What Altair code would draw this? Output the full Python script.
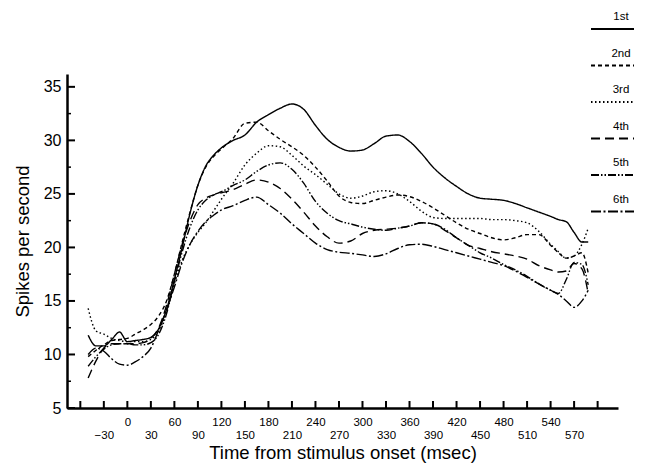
import altair as alt
import pandas as pd

names = ["1st", "2nd", "3rd", "4th", "5th", "6th"]
time = [-50, -40, -30, -20, -10, 0, 10, 20, 30, 40, 50, 60, 70, 80, 90, 100, 110, 120,
        135, 150, 165, 180, 195, 210, 225, 240, 255, 270, 285, 300, 315, 330, 345, 360,
        375, 390, 405, 420, 435, 450, 465, 480, 495, 510, 525, 540, 550, 560, 570, 580, 588]

s1 = [11.8, 10.8, 10.8, 11.4, 12.1, 11.2, 11.3, 11.4, 11.6, 12.4, 14.2, 17.0, 20.0, 23.2, 25.8, 27.6, 28.6, 29.3,
      30.0, 30.5, 31.7, 32.4, 33.0, 33.4, 32.9, 31.4, 30.1, 29.35, 29.0, 29.1, 29.7, 30.4, 30.5, 29.9,
      28.8, 27.5, 26.5, 25.7, 25.0, 24.6, 24.5, 24.4, 24.1, 23.7, 23.3, 22.9, 22.6, 22.4, 21.4, 20.5, 20.5]
s2 = [9.8, 10.4, 10.9, 11.3, 11.4, 11.5, 11.9, 12.3, 12.8, 13.6, 15.0, 17.5, 20.5, 23.3, 25.8, 27.5, 28.5, 29.2,
      30.2, 31.6, 31.7, 30.9, 30.1, 29.4, 28.6, 27.5, 26.2, 24.8, 24.2, 24.1, 24.4, 24.7, 24.9, 24.75,
      24.3, 23.7, 23.0, 22.3, 21.7, 21.3, 20.9, 20.7, 20.9, 21.2, 21.2, 20.2, 19.5, 19.0, 19.2, 19.5, 17.6]
s3 = [14.3, 12.2, 11.9, 11.5, 11.3, 11.2, 11.2, 11.2, 11.4, 12.2, 14.0, 16.6, 18.8, 20.3, 21.4, 22.3, 23.4, 24.5,
      26.0, 27.7, 28.8, 29.5, 29.4, 28.6, 27.6, 26.8, 25.9, 25.0, 24.6, 24.8, 25.2, 25.3, 25.0, 24.3,
      23.4, 22.8, 22.7, 22.7, 22.7, 22.7, 22.6, 22.6, 22.5, 22.3, 21.5, 20.3, 19.6, 19.0, 19.2, 20.3, 21.8]
s4 = [7.8, 9.4, 10.6, 11.0, 11.0, 11.0, 11.0, 11.1, 11.5, 12.5, 14.6, 17.5, 20.3, 22.5, 24.0, 24.6, 24.9, 25.1,
      25.4, 25.9, 26.3, 26.1, 25.5, 24.5, 23.3, 22.0, 21.0, 20.4, 20.6, 21.3, 21.6, 21.7, 21.8, 22.0,
      22.3, 22.2, 21.6, 20.9, 20.2, 19.9, 19.6, 19.4, 19.2, 18.9, 18.3, 17.9, 17.7, 17.8, 18.5, 18.0, 15.7]
s5 = [8.9, 9.8, 10.5, 10.9, 11.0, 11.0, 10.9, 10.9, 11.1, 11.9, 13.8, 16.8, 19.6, 21.9, 23.5, 24.4, 24.9, 25.2,
      25.8, 26.3, 27.1, 27.7, 27.9, 27.3, 26.0, 24.3, 23.2, 22.5, 22.2, 21.9, 21.7, 21.6, 21.8, 22.0,
      22.3, 22.2, 21.7, 20.9, 20.2, 19.5, 19.0, 18.4, 17.9, 17.3, 16.6, 16.0, 15.7, 17.0, 18.6, 18.4, 16.5]
s6 = [10.0, 10.6, 10.3, 9.6, 9.1, 9.0, 9.3, 9.8, 10.6, 12.3, 14.2, 16.3, 18.6, 20.3, 21.5, 22.4, 23.0, 23.5,
      23.9, 24.4, 24.7, 24.0, 23.2, 22.2, 21.3, 20.4, 19.8, 19.55, 19.45, 19.3, 19.15, 19.4, 19.9, 20.25,
      20.3, 20.1, 19.8, 19.5, 19.2, 18.9, 18.6, 18.3, 17.8, 17.2, 16.6, 16.0, 15.6, 15.0, 14.4, 15.0, 16.0]

x_ticks = list(range(-60, 601, 30))
y_major = [5, 10, 15, 20, 25, 30, 35]
y_minor = [7.5, 12.5, 17.5, 22.5, 27.5, 32.5]

dashes = [[1, 0], [4, 3], [1.5, 2.5], [9, 5], [8, 2, 1.5, 2, 1.5, 2], [10, 2.5, 2, 2.5]]

series_vals = [s1, s2, s3, s4, s5, s6]
rows = []
for name, vals in zip(names, series_vals):
    for t, v in zip(time, vals):
        rows.append({"series": name, "t": t, "v": v})
df = pd.DataFrame(rows)

W, H = 551, 334
FONT = "Liberation Sans"
xs = alt.Scale(domain=[-77, 626], nice=False, zero=False)
ys = alt.Scale(domain=[5, 36.2], nice=False, zero=False)
dash_scale = alt.Scale(domain=names, range=dashes)

x_axis = alt.Axis(values=x_ticks, ticks=False, grid=False, labelOverlap=False, labelFlush=False,
                  labelExpr="(datum.value < -45 || datum.value > 585) ? '' : (datum.value % 60 == 0 ? datum.label : ['', datum.label])",
                  labelBaseline="top", labelPadding=8, labelLineHeight=13, labelFontSize=11.5,
                  title="Time from stimulus onset (msec)", titleFontSize=18.5, titlePadding=3)
y_axis = alt.Axis(values=y_major, ticks=False, grid=False, labelFontSize=16, labelPadding=6,
                  title="Spikes per second", titleFontSize=18.5, titlePadding=11)


def X():
    return alt.X("t:Q", scale=xs, axis=x_axis)


def Y():
    return alt.Y("v:Q", scale=ys, axis=y_axis)


lines = alt.Chart(df).mark_line(color="black", strokeWidth=1.4, interpolate="monotone").encode(
    x=X(), y=Y(),
    strokeDash=alt.StrokeDash("series:N", scale=dash_scale, legend=None),
    detail="series:N",
)

xt = alt.Chart(pd.DataFrame({"t": x_ticks})).mark_rule(color="black", strokeWidth=2).encode(
    x=X(), y=alt.value(H), y2=alt.value(H - 7))
ytm = alt.Chart(pd.DataFrame({"v": y_major})).mark_rule(color="black", strokeWidth=2).encode(
    y=Y(), x=alt.value(0), x2=alt.value(8))
ytn = alt.Chart(pd.DataFrame({"v": y_minor})).mark_rule(color="black", strokeWidth=1.5).encode(
    y=Y(), x=alt.value(0), x2=alt.value(4))

main = alt.layer(lines, xt, ytm, ytn)

leg_df = pd.DataFrame({"series": names})
ly = alt.Y("series:N", scale=alt.Scale(type="point", domain=names, range=[-45, 137.5], padding=0), axis=None)
leg_rules = alt.Chart(leg_df).mark_rule(color="black", strokeWidth=2).encode(
    y=ly, x=alt.value(524), x2=alt.value(567),
    strokeDash=alt.StrokeDash("series:N", scale=dash_scale, legend=None))
leg_text = alt.Chart(leg_df).mark_text(font=FONT, fontSize=11.5, dy=-12, align="center", color="black").encode(
    y=ly, x=alt.value(554), text="series:N")
legend = alt.layer(leg_rules, leg_text)

chart = alt.layer(main, legend).resolve_scale(y="independent").properties(
    width=W, height=H,
    autosize=alt.AutoSizeParams(type="none"),
    padding={"left": 59, "top": 66, "right": 24, "bottom": 56},
).configure_view(stroke=None).configure_axis(
    domainColor="black", domainWidth=2.5, labelColor="black", titleColor="black",
    labelFont=FONT, titleFont=FONT, titleFontWeight="normal",
)

chart.save("out.html", embed_options={"renderer": "svg", "actions": False})
